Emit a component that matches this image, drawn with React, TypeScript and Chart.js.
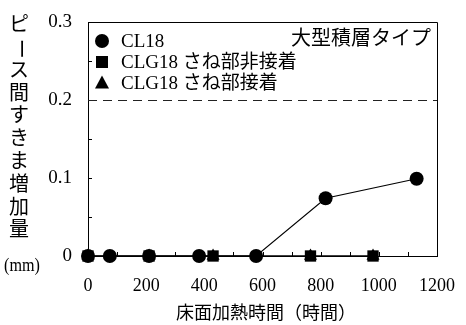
import React, { useEffect, useRef } from 'react';
import { Chart, registerables } from 'chart.js';
Chart.register(...registerables);

const cl18Hours = [0, 75, 210, 382, 578, 817, 1130];
const cl18Gap = [0, 0, 0, 0, 0, 0.074, 0.099];
const clgNonHours = [0, 210, 430, 765, 980];
const clgNonGap = [0, 0, 0, 0, 0];
const clgAdhHours = [0, 210, 430, 765, 980];
const clgAdhGap = [0, 0, 0, 0, 0];
const xTickValues = [0, 200, 400, 600, 800, 1000, 1200];
const yTickLabels = ['0', '0.1', '0.2', '0.3'];
const seriesNames = ['CL18', 'CLG18 さね部非接着', 'CLG18 さね部接着'];
const chartTitle = '大型積層タイプ';
const xTitle = '床面加熱時間（時間）';
const yTitleChars = ['ピ', 'ー', 'ス', '間', 'す', 'き', 'ま', '増', '加', '量'];
const yUnit = '(mm)';
const limitValue = 0.2;

const FONT = "'Liberation Serif', 'Noto Sans CJK JP', serif";

function toPts(xs: number[], ys: number[]) {
  return xs.map((x, i) => ({ x, y: ys[i] }));
}

function drawMarker(ctx: CanvasRenderingContext2D, style: string, x: number, y: number) {
  ctx.beginPath();
  if (style === 'circle') {
    ctx.arc(x, y, 7, 0, Math.PI * 2);
  } else if (style === 'rect') {
    ctx.rect(x - 6, y - 6, 12, 12);
  } else {
    ctx.moveTo(x, y - 7.5);
    ctx.lineTo(x + 7, y + 5.5);
    ctx.lineTo(x - 7, y + 5.5);
    ctx.closePath();
  }
  ctx.fill();
}

const decor = {
  id: 'decor',
  afterDraw(chart: any) {
    const ctx = chart.ctx as CanvasRenderingContext2D;
    const { left, right, top, bottom } = chart.chartArea;
    const xs = chart.scales.x;
    const ys = chart.scales.y;
    ctx.save();
    ctx.strokeStyle = '#000';
    ctx.lineWidth = 1;
    ctx.beginPath();
    ctx.moveTo(left, top + 0.5);
    ctx.lineTo(right + 0.5, top + 0.5);
    ctx.lineTo(right + 0.5, bottom);
    ctx.stroke();
    ctx.beginPath();
    for (let v = 100; v < 1200; v += 100) {
      const px = Math.round(xs.getPixelForValue(v)) + 0.5;
      ctx.moveTo(px, bottom);
      ctx.lineTo(px, bottom - 4);
    }
    for (let v = 0.05; v < 0.3; v += 0.05) {
      const py = Math.round(ys.getPixelForValue(v)) + 0.5;
      ctx.moveTo(left, py);
      ctx.lineTo(left + 4, py);
    }
    ctx.stroke();
    const ly = Math.round(ys.getPixelForValue(limitValue)) + 0.5;
    ctx.setLineDash([9, 6]);
    ctx.strokeStyle = '#222';
    ctx.beginPath();
    ctx.moveTo(left, ly);
    ctx.lineTo(right, ly);
    ctx.stroke();
    ctx.setLineDash([]);

    ctx.fillStyle = '#000';
    ctx.font = `20px ${FONT}`;
    ctx.textAlign = 'right';
    ctx.textBaseline = 'middle';
    ctx.fillText(chartTitle, right - 6, top + 18);
    const styles = ['circle', 'rect', 'triangle'];
    ctx.font = `19px ${FONT}`;
    ctx.textAlign = 'left';
    seriesNames.forEach((name, i) => {
      const y = top + 19 + i * 21;
      drawMarker(ctx, styles[i], left + 14, y);
      ctx.fillText(name, left + 33, y + 1);
    });
    ctx.font = `18px ${FONT}`;
    ctx.textAlign = 'center';
    ctx.fillText(xTitle, 266, 314);
    ctx.font = `20px ${FONT}`;
    yTitleChars.forEach((ch, i) => {
      const y = 26 + i * 22.8;
      if (ch === 'ー') {
        ctx.save();
        ctx.translate(19, y);
        ctx.rotate(Math.PI / 2);
        ctx.fillText(ch, 0, 0);
        ctx.restore();
      } else {
        ctx.fillText(ch, 19, y);
      }
    });
    ctx.save();
    ctx.translate(22, 266);
    ctx.scale(0.85, 1);
    ctx.font = `19px ${FONT}`;
    ctx.fillText(yUnit, 0, 0);
    ctx.restore();
    ctx.restore();
  },
};

export default function App() {
  const ref = useRef<HTMLCanvasElement>(null);
  useEffect(() => {
    const chart = new Chart(ref.current!, {
      type: 'scatter',
      data: {
        datasets: [
          {
            label: seriesNames[0],
            data: toPts(cl18Hours, cl18Gap),
            showLine: true,
            borderColor: '#000',
            backgroundColor: '#000',
            borderWidth: 1.2,
            pointStyle: 'circle',
            pointRadius: 7,
            pointBorderWidth: 0,
            clip: false as any,
          },
          {
            label: seriesNames[1],
            data: toPts(clgNonHours, clgNonGap),
            showLine: true,
            borderColor: '#000',
            backgroundColor: '#000',
            borderWidth: 1,
            pointStyle: 'rect',
            pointRadius: 8,
            pointBorderWidth: 0,
            clip: false as any,
          },
          {
            label: seriesNames[2],
            data: toPts(clgAdhHours, clgAdhGap),
            showLine: true,
            borderColor: '#000',
            backgroundColor: '#000',
            borderWidth: 1,
            pointStyle: 'triangle',
            pointRadius: 7.5,
            pointBorderWidth: 0,
            clip: false as any,
          },
        ],
      },
      options: {
        animation: false,
        responsive: false,
        maintainAspectRatio: false,
        layout: { padding: { left: 0, top: 22, right: 17, bottom: 0 } },
        plugins: { legend: { display: false }, title: { display: false }, tooltip: { enabled: false } },
        scales: {
          x: {
            type: 'linear',
            min: 0,
            max: 1200,
            afterBuildTicks: (s: any) => {
              s.ticks = xTickValues.map((v) => ({ value: v }));
            },
            afterFit: (s: any) => {
              s.height = 69;
            },
            ticks: {
              color: '#000',
              font: { family: FONT, size: 18 },
              padding: 11,
              maxRotation: 0,
              autoSkip: false,
              callback: (v: any) => String(v),
            },
            grid: { display: false },
            border: { display: true, color: '#000', width: 1 },
          },
          y: {
            type: 'linear',
            min: 0,
            max: 0.3,
            afterBuildTicks: (s: any) => {
              s.ticks = yTickLabels.map((t) => ({ value: parseFloat(t) }));
            },
            afterFit: (s: any) => {
              s.width = 88;
            },
            ticks: {
              color: '#000',
              font: { family: FONT, size: 19 },
              padding: 8,
              autoSkip: false,
              callback: (v: any) => {
                const i = yTickLabels.findIndex((t) => Math.abs(parseFloat(t) - v) < 1e-9);
                return i >= 0 ? yTickLabels[i] : '';
              },
            },
            grid: { display: false },
            border: { display: true, color: '#000', width: 1 },
          },
        },
      },
      plugins: [decor],
    } as any);
    return () => chart.destroy();
  }, []);
  return (
    <div style={{ position: 'fixed', left: 0, top: 0, width: 466, height: 325, background: '#fff' }}>
      <canvas ref={ref} width={466} height={325} style={{ width: 466, height: 325 }} />
    </div>
  );
}
